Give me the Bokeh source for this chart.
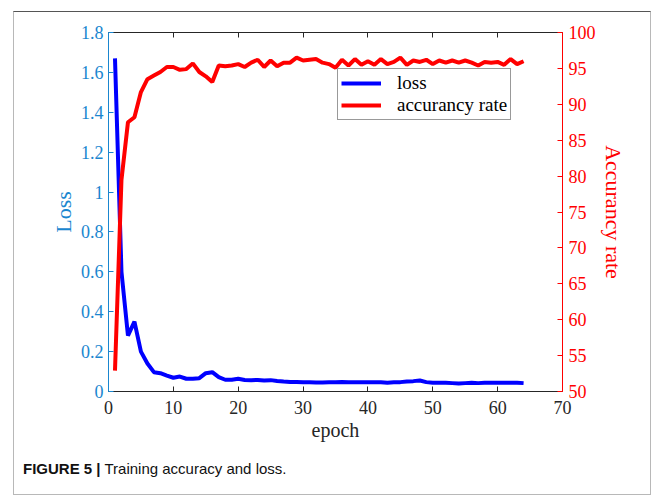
from bokeh.plotting import figure
from bokeh.models import (Range1d, LinearAxis, FixedTicker, CustomJSTickFormatter,
                          Legend, LegendItem, Div)
from bokeh.layouts import column
from bokeh.embed import file_html
from bokeh.resources import INLINE

epochs = list(range(1, 65))
loss = [1.67, 0.60, 0.28, 0.35, 0.20, 0.14, 0.097, 0.092, 0.080, 0.069,
        0.075, 0.064, 0.064, 0.067, 0.092, 0.097, 0.072, 0.059, 0.059, 0.064,
        0.058, 0.057, 0.058, 0.055, 0.057, 0.053, 0.050, 0.048, 0.048, 0.047,
        0.046, 0.045, 0.045, 0.046, 0.047, 0.048, 0.047, 0.046, 0.046, 0.046,
        0.047, 0.046, 0.044, 0.046, 0.047, 0.050, 0.052, 0.055, 0.047, 0.044,
        0.044, 0.044, 0.042, 0.040, 0.042, 0.044, 0.042, 0.044, 0.044, 0.044,
        0.044, 0.044, 0.044, 0.042]
acc = [52.9, 79.5, 87.5, 88.2, 91.7, 93.5, 94.0, 94.5, 95.2, 95.2,
       94.8, 94.9, 95.7, 94.5, 93.9, 93.1, 95.4, 95.3, 95.4, 95.6,
       95.2, 95.8, 96.2, 95.2, 96.1, 95.3, 95.8, 95.8, 96.5, 96.1,
       96.2, 96.3, 95.8, 95.6, 95.1, 96.2, 95.4, 96.3, 95.5, 96.0,
       95.5, 96.3, 95.6, 95.9, 96.5, 95.5, 96.1, 95.9, 96.2, 95.6,
       96.1, 95.8, 96.1, 95.8, 96.1, 95.8, 95.4, 95.9, 95.8, 95.9,
       95.5, 96.3, 95.6, 96.0]
x_ticks = [0, 10, 20, 30, 40, 50, 60, 70]
loss_ticks = [0, 0.2, 0.4, 0.6, 0.8, 1, 1.2, 1.4, 1.6, 1.8]
acc_ticks = [50, 55, 60, 65, 70, 75, 80, 85, 90, 95, 100]

BLUE_AX = "#1a86cf"
RED = "#ff0000"
DARK = "#262626"
SERIF = "Liberation Serif"

p = figure(width=636, height=433, x_range=Range1d(0, 70), y_range=Range1d(0, 1.8),
           output_backend="svg", toolbar_location=None,
           min_border_left=94, min_border_right=88, min_border_top=20, min_border_bottom=54)
p.extra_y_ranges = {"acc": Range1d(50, 100)}
p.xgrid.visible = False
p.ygrid.visible = False
p.outline_line_color = None
p.background_fill_color = "white"
p.border_fill_color = "white"

def style_axis(ax, color, label_color):
    ax.axis_line_color = color
    ax.major_tick_line_color = color
    ax.minor_tick_line_color = None
    ax.major_tick_in = 5
    ax.major_tick_out = 0
    ax.major_label_text_font = SERIF
    ax.major_label_text_font_size = "18px"
    ax.major_label_text_color = label_color
    ax.axis_label_text_font = SERIF
    ax.axis_label_text_font_style = "normal"

xa = p.xaxis[0]
style_axis(xa, DARK, DARK)
xa.ticker = FixedTicker(ticks=x_ticks)
xa.axis_label = "epoch"
xa.axis_label_text_font_size = "20px"
xa.axis_label_text_color = DARK
xa.major_label_standoff = 9
xa.axis_label_standoff = 2

ya = p.yaxis[0]
style_axis(ya, BLUE_AX, BLUE_AX)
ya.ticker = FixedTicker(ticks=loss_ticks)
ya.formatter = CustomJSTickFormatter(code="return String(Math.round(tick*10)/10);")
ya.axis_label = "Loss"
ya.axis_label_text_font_size = "22px"
ya.axis_label_text_color = BLUE_AX
ya.major_label_standoff = 5
ya.axis_label_standoff = 2

ra = LinearAxis(y_range_name="acc", ticker=FixedTicker(ticks=acc_ticks))
style_axis(ra, RED, RED)
ra.axis_label = "Accurancy rate"
ra.axis_label_text_font_size = "22px"
ra.axis_label_text_color = RED
ra.major_label_standoff = 6
ra.axis_label_standoff = 2
p.add_layout(ra, "right")

ta = LinearAxis(ticker=FixedTicker(ticks=x_ticks))
style_axis(ta, DARK, DARK)
ta.formatter = CustomJSTickFormatter(code="return '';")
ta.major_label_standoff = 0
p.add_layout(ta, "above")

r_loss = p.line(epochs, loss, line_color="#0000ff", line_width=4)
r_acc = p.line(epochs, acc, line_color=RED, line_width=4, y_range_name="acc")

legend = Legend(items=[LegendItem(label="loss", renderers=[r_loss]),
                       LegendItem(label="accurancy rate", renderers=[r_acc])],
                location=(229, 271), margin=0, padding=3, spacing=-5,
                glyph_width=40, glyph_height=16, label_height=16, label_standoff=16,
                label_text_font=SERIF, label_text_font_size="19px", label_text_color="black",
                border_line_color="#333333", border_line_width=1,
                background_fill_color="white", background_fill_alpha=1)
p.add_layout(legend, "center")

cap = Div(text="<b>FIGURE 5 |</b> Training accuracy and loss.", width=620, height=36,
          margin=(13, 0, 0, 9),
          styles={"font-family": "Liberation Sans", "font-size": "15px", "color": "#111111"})

col = column(p, cap, margin=(11, 0, 0, 13),
             styles={"border-left": "1px solid #b8b8b8", "border-right": "1px solid #b8b8b8",
                     "border-bottom": "1px solid #b8b8b8", "border-top": "1px solid #555555"})

open("out.html", "w").write(file_html(col, INLINE))
